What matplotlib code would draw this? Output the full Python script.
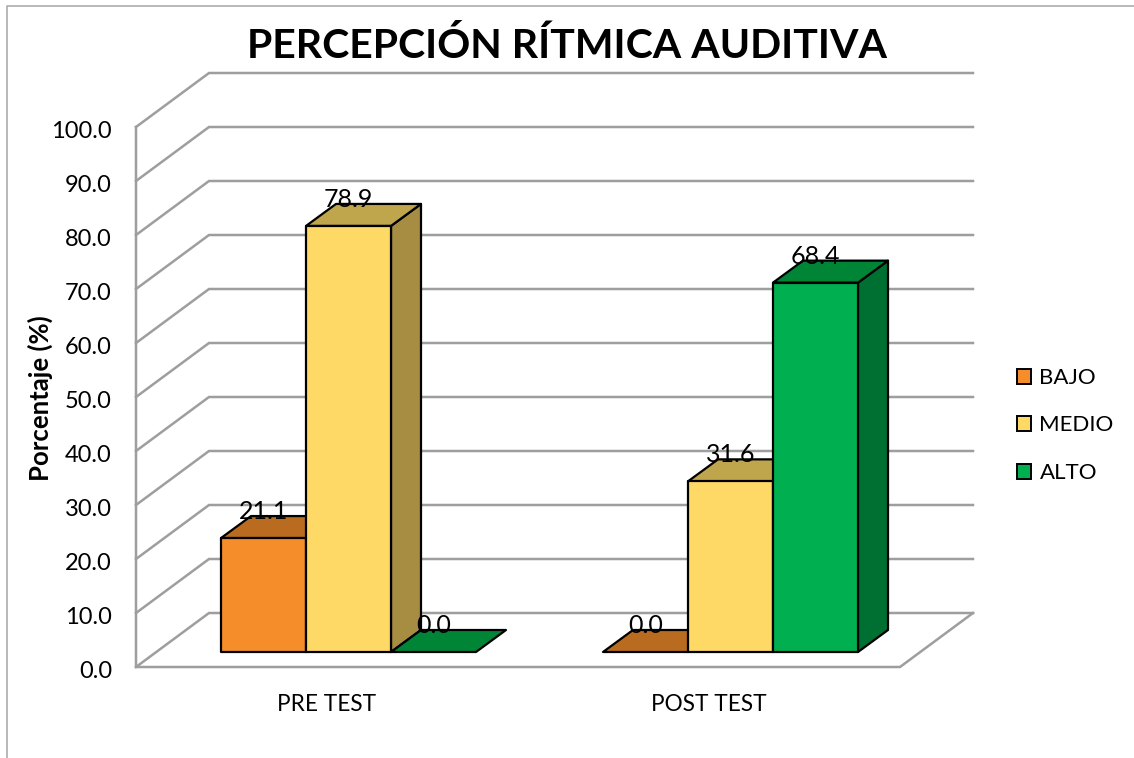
import matplotlib
matplotlib.use("Agg")
import matplotlib.pyplot as plt
from matplotlib.patches import Polygon, Patch
from matplotlib.lines import Line2D
from matplotlib.transforms import ScaledTranslation

plt.rcParams['font.family'] = ['Lato', 'DejaVu Sans']

# ---- data ----
categories = ["PRE TEST", "POST TEST"]
series_names = ["BAJO", "MEDIO", "ALTO"]
bajo = [21.1, 0.0]
medio = [78.9, 31.6]
alto = [0.0, 68.4]
y_ticks = [0, 10, 20, 30, 40, 50, 60, 70, 80, 90, 100]
title = "PERCEPCIÓN RÍTMICA AUDITIVA"
y_label = "Porcentaje (%)"

# ---- styles ----
front_cols = ["#F58D2B", "#FFD966", "#00B050"]
top_cols = ["#B96B20", "#BFA54C", "#008537"]
side_cols = ["#A36120", "#A68D42", "#006F32"]
GRID = "#9E9E9E"
W, H = 1134, 758
PX_X = 764 / 2.0      # pixels per category unit
PX_Y = 5.40           # pixels per value unit

WALL_DX, WALL_DY = 73 / PX_X, 54 / PX_Y       # depth of the chart box
BAR_W = 85 / PX_X
BAR_DX, BAR_DY = 30 / PX_X, 22 / PX_Y         # depth of a bar
BASE_DY = 15 / PX_Y                           # bar baseline above the front floor edge
GROUP_SHIFT = 21.5 / PX_X                     # shift of bars to the depth middle

fig = plt.figure(figsize=(W / 100, H / 100), dpi=100)
ax = fig.add_axes([136 / W, 1 - 667 / H, 764 / W, 540 / H])
ax.set_xlim(0, 2)
ax.set_ylim(0, 100)
ax.patch.set_visible(False)
for s in ax.spines.values():
    s.set_visible(False)

lw_g = 1.8
# gridlines on wall and side wall
for v in y_ticks:
    ax.plot([0, WALL_DX, 2 + WALL_DX], [v, v + WALL_DY, v + WALL_DY],
            color=GRID, lw=lw_g, clip_on=False, zorder=1, solid_joinstyle='miter')
# floor and vertical axis
ax.plot([0, 0, 2, 2 + WALL_DX], [100, 0, 0, WALL_DY], color=GRID, lw=lw_g,
        clip_on=False, zorder=1.5, solid_joinstyle='miter')

# bars
values = [bajo, medio, alto]
for c in range(len(categories)):
    x0 = c + 0.5 + GROUP_SHIFT - 1.5 * BAR_W
    for i, vals in enumerate(values):
        v = vals[c]
        xl = x0 + i * BAR_W
        xr = xl + BAR_W
        b = BASE_DY
        t = BASE_DY + v
        z = 3 + i * 0.1
        kw = dict(edgecolor="black", lw=1.6, joinstyle='round', clip_on=False, zorder=z)
        if v > 0:
            ax.add_patch(Polygon([(xr, b), (xr + BAR_DX, b + BAR_DY),
                                  (xr + BAR_DX, t + BAR_DY), (xr, t)],
                                 facecolor=side_cols[i], **kw))
        ax.add_patch(Polygon([(xl, t), (xr, t), (xr + BAR_DX, t + BAR_DY),
                              (xl + BAR_DX, t + BAR_DY)],
                             facecolor=top_cols[i], **kw))
        if v > 0:
            ax.add_patch(Polygon([(xl, b), (xr, b), (xr, t), (xl, t)],
                                 facecolor=front_cols[i], **kw))
        ax.annotate(f"{v:.1f}", xy=((xl + xr) / 2, t), xytext=(0, 19),
                    textcoords="offset points", ha="center", va="center",
                    fontsize=18, color="black", zorder=10, annotation_clip=False)

# axes labels
ax.set_yticks(y_ticks)
ax.set_yticklabels([f"{v:.1f}" for v in y_ticks], fontsize=17, color="black")
ax.set_xticks([0.5, 1.5])
ax.set_xticklabels(categories, fontsize=16.3, color="black")
ax.tick_params(axis="y", length=0, pad=17.3)
ax.tick_params(axis="x", length=0, pad=19.5)
down = ScaledTranslation(0, -3 / 100, fig.dpi_scale_trans)
for lab in ax.get_yticklabels():
    lab.set_transform(lab.get_transform() + down)

fig.text(567 / W, 1 - 45.5 / H, title, ha="center", va="center",
         fontsize=29.5, fontweight="bold", color="black")
fig.text(40 / W, 1 - 398 / H, y_label, rotation=90, ha="center", va="center",
         fontsize=18.5, fontweight="bold", color="black")

# legend
handles = [Patch(facecolor=front_cols[i], edgecolor="black", lw=1.4, label=series_names[i])
           for i in range(3)]
fig.legend(handles=handles, loc="center left", bbox_to_anchor=(999 / W, 1 - 425.5 / H),
           frameon=False, fontsize=16, handlelength=0.66, handleheight=0.66,
           handletextpad=0.36, labelspacing=1.23, borderpad=0.3)

# chart frame (left and top edges visible)
fig.add_artist(Line2D([7 / W, 7 / W, 1], [0, 1 - 5.5 / H, 1 - 5.5 / H],
                      transform=fig.transFigure, color="#A6A6A6", lw=1.1))

fig.savefig("out.png", dpi=100)
